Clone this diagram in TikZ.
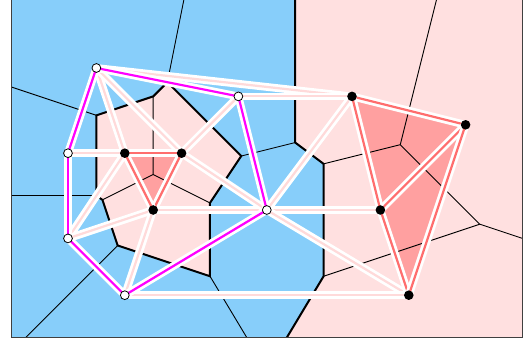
\documentclass[tikz,border=0pt]{standalone}

\pgfdeclarelayer{cells}
\pgfdeclarelayer{links}
\pgfsetlayers{cells,links,main}

\begin{document}
\begin{tikzpicture}[x=0.5cm,y=-0.5cm,
  wsite/.style={circle,draw=black,line width=0.4pt,fill=white,inner sep=0pt,minimum size=4.4pt},
  bsite/.style={circle,fill=black,inner sep=0pt,minimum size=4.8pt},
  link/.style={draw=white,line width=1.4pt,double distance=1.1pt,double=#1},
  vthin/.style={line width=0.45pt},
  vthick/.style={line width=1pt}]

% colors
\definecolor{cBlue}{RGB}{135,206,250}
\definecolor{cPink}{RGB}{255,224,224}
\definecolor{cTri}{RGB}{255,160,160}
\definecolor{cRed}{RGB}{255,110,110}
\definecolor{cMag}{RGB}{255,0,255}
\definecolor{cPale}{RGB}{255,218,218}

\useasboundingbox (-2.394,-2.394) rectangle (16.233,9.718);

% sites
\foreach \n/\x/\y in {A/1/0,B/6/1,C/0/3,D/0/6,E/2/8,F/7/5}
  \node[wsite] (\n) at (\x,\y) {};
\foreach \n/\x/\y in {G/2/3,H/4/3,I/3/5,J/10/1,K/14/2,L/11/5,M/12/8}
  \node[bsite] (\n) at (\x,\y) {};

% voronoi vertices (circumcentres)
\foreach \v/\x/\y in {
  1/1/1.667, 2/3/1, 3/3.5/0.5, 4/6.1/3.1, 5/5/4.75, 6/3/3.75,
  7/1.214/4.643, 8/1/4.5, 9/1.75/6.25, 10/5/7.333, 11/7/10.667,
  12/9/7.333, 13/9/3.375, 14/8/2.625, 15/8/-22, 16/11.7/2.7, 17/14.5/5.5
}{
  \coordinate (v\v) at (\x,\y);
}

\begin{pgfonlayer}{cells}
\begin{scope}
\clip (-2,-3) rectangle (16,9.5);

% cells of white and black sites
\fill[cBlue] (-2,-3) rectangle (16,9.5);
\fill[cPink] (v1) -- (v2) -- (v3) -- (v4) -- (v5) -- (v10) -- (v9) -- (v7) -- (v8) -- cycle;
\fill[cPink] (v15) -- (v14) -- (v13) -- (v12) -- (v11) -- (20,10.667) -- (20,-22) -- cycle;

% black triangles
\fill[cTri] (G.center) -- (H.center) -- (I.center) -- cycle;
\fill[cTri] (J.center) -- (K.center) -- (M.center) -- (L.center) -- cycle;

% borders between the two colours
\draw[vthick] (v1) -- (v2) -- (v3) -- (v4) -- (v5) -- (v10) -- (v9) -- (v7) -- (v8) -- cycle;
\draw[vthick] (v15) -- (v14) -- (v13) -- (v12) -- (v11);

% other voronoi edges
\draw[vthin] (v2) -- (v6) -- (v7);
\draw[vthin] (v6) -- (v5);
\draw[vthin] (v3) -- (v15);
\draw[vthin] (v4) -- (v14);
\draw[vthin] (v10) -- (v11);
\draw[vthin] (v13) -- (v16) -- (v17) -- (v12);
\draw[vthin] (v1) -- ++(-6,-2);
\draw[vthin] (v8) -- ++(-6,0);
\draw[vthin] (v9) -- ++(-5,5);
\draw[vthin] (v16) -- ++(2,-8);
\draw[vthin] (v17) -- ++(6,2);
\end{scope}

% frame
\draw[line width=0.6pt,black!75] (-2,-3) rectangle (16,9.5);
\end{pgfonlayer}

% delaunay edges
\begin{pgfonlayer}{links}
\foreach \a/\b in {A/J,B/J,C/G,A/G,A/H,B/H,D/G,D/I,E/I,I/F,H/F,F/J,F/L,F/M,E/M}
  \draw[link=cPale] (\a.center) -- (\b.center);
\foreach \a/\b in {G/H,H/I,I/G,J/K,K/L,L/J,L/M,M/K}
  \draw[link=cRed] (\a.center) -- (\b.center);
\foreach \a/\b in {A/B,B/F,F/E,E/D,D/C,C/A}
  \draw[link=cMag] (\a.center) -- (\b.center);
\end{pgfonlayer}

\end{tikzpicture}
\end{document}
